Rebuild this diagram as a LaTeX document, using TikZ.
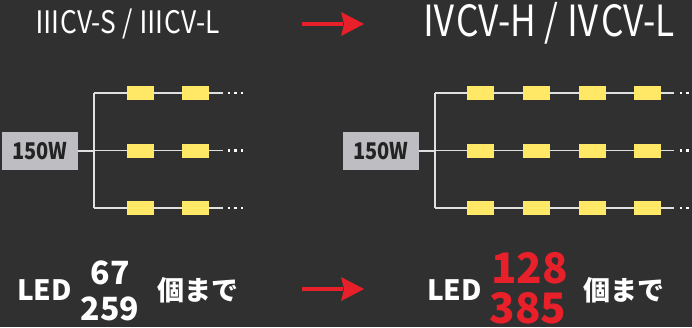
\documentclass[tikz,border=0pt]{standalone}
\usepackage{fontspec}
\setmainfont{Noto Sans CJK JP}
\newfontfamily\jpbold{Noto Sans CJK JP}[FakeBold=0]
\newcommand\bt{\jpbold\bfseries}
\definecolor{bgc}{HTML}{303030}
\definecolor{redc}{HTML}{E8202A}
\definecolor{ledc}{HTML}{FFE866}
\definecolor{boxc}{HTML}{BEBEC2}
\definecolor{boxtxt}{HTML}{232323}
\definecolor{wirec}{HTML}{E0E0E0}
\tikzset{
  ledbox/.style={fill=ledc, draw=none, minimum width=27pt, minimum height=14pt, inner sep=0pt},
  pwrbox/.style={fill=boxc, draw=none, minimum width=76pt, minimum height=38pt, inner sep=0pt, text=boxtxt, font=\bt\fontsize{23}{23}\selectfont},
  wire/.style={draw=wirec, line width=1.8pt},
  dotsq/.style={fill=white, draw=none, minimum size=2.2pt, inner sep=0pt},
  redarrow/.style={draw=redc, line width=4pt},
  title/.style={text=white, inner sep=0pt, anchor=base west},
  boldtxt/.style={text=white, inner sep=0pt},
}
\begin{document}
\begin{tikzpicture}[x=1pt,y=-1pt]
\fill[bgc] (0,0) rectangle (692,327);
\useasboundingbox (0,0) rectangle (692,327);

% titles
\node[title, font=\fontsize{31}{31}\selectfont] (t1) at (34,33) {\scalebox{0.85}[1]{ⅢCV-S / ⅢCV-L}};
\node[title, font=\fontsize{43}{43}\selectfont] (t2) at (421,36) {\scalebox{0.82}[1]{ⅣCV-H / ⅣCV-L}};

% red arrows
\foreach \yy/\nm in {24/ta, 289/ba}{
  \coordinate (\nm s) at (302,\yy);
  \coordinate (\nm e) at (343,\yy);
  \draw[redarrow] (\nm s) -- (\nm e);
  \fill[redc] (341,\yy-12) -- (364,\yy) -- (341,\yy+12) -- (344,\yy) -- cycle;
}

% left diagram
\node[pwrbox] (pL) at (40,151) {\scalebox{0.87}[1]{150W}};
\coordinate (jL) at (94,151);
\coordinate (tLt) at (94,93);
\coordinate (tLb) at (94,208);
\draw[wire] (pL.east) -- (jL);
\draw[wire] (tLt) -- (tLb);
\foreach \r/\yy in {1/93,2/150.5,3/208}{
  \coordinate (eL\r) at (223,\yy);
  \coordinate (sL\r) at (94,\yy);
  \draw[wire] (sL\r) -- (eL\r);
  \node[ledbox] (aL\r) at (140.5,\yy) {};
  \node[ledbox] (bL\r) at (195.5,\yy) {};
  \foreach \k/\xx in {1/229,2/235.5,3/242}{
    \node[dotsq] (dL\r\k) at (\xx,\yy) {};
  }
}

% right diagram
\node[pwrbox] (pR) at (381,151) {\scalebox{0.87}[1]{150W}};
\coordinate (jR) at (435,151);
\coordinate (tRt) at (435,93);
\coordinate (tRb) at (435,208);
\draw[wire] (pR.east) -- (jR);
\draw[wire] (tRt) -- (tRb);
\foreach \r/\yy in {1/93,2/150.5,3/208}{
  \coordinate (eR\r) at (674,\yy);
  \coordinate (sR\r) at (435,\yy);
  \draw[wire] (sR\r) -- (eR\r);
  \node[ledbox] (aR\r) at (480.5,\yy) {};
  \node[ledbox] (bR\r) at (536.5,\yy) {};
  \node[ledbox] (cR\r) at (592.5,\yy) {};
  \node[ledbox] (gR\r) at (647.5,\yy) {};
  \foreach \k/\xx in {1/681,2/687.5,3/694}{
    \node[dotsq] (dR\r\k) at (\xx,\yy) {};
  }
}

% bottom left
\node[boldtxt, font=\bt\fontsize{28}{28}\selectfont, anchor=base west] (ledL) at (17,300) {LED};
\node[boldtxt, font=\bt\fontsize{32}{32}\selectfont, anchor=base] (n1L) at (110,284) {67};
\node[boldtxt, font=\bt\fontsize{32}{32}\selectfont, anchor=base] (n2L) at (110,320) {259};
\node[boldtxt, font=\bt\fontsize{27}{27}\selectfont, anchor=base west] (jpL) at (157,300) {個まで};

% bottom right
\node[boldtxt, font=\bt\fontsize{28}{28}\selectfont, anchor=base west] (ledR) at (427,300) {LED};
\node[boldtxt, text=redc, font=\bt\fontsize{42}{42}\selectfont, anchor=base] (n1R) at (529.5,283) {128};
\node[boldtxt, text=redc, font=\bt\fontsize{42}{42}\selectfont, anchor=base] (n2R) at (528,323) {385};
\node[boldtxt, font=\bt\fontsize{27}{27}\selectfont, anchor=base west] (jpR) at (583,300) {個まで};
\end{tikzpicture}
\end{document}
